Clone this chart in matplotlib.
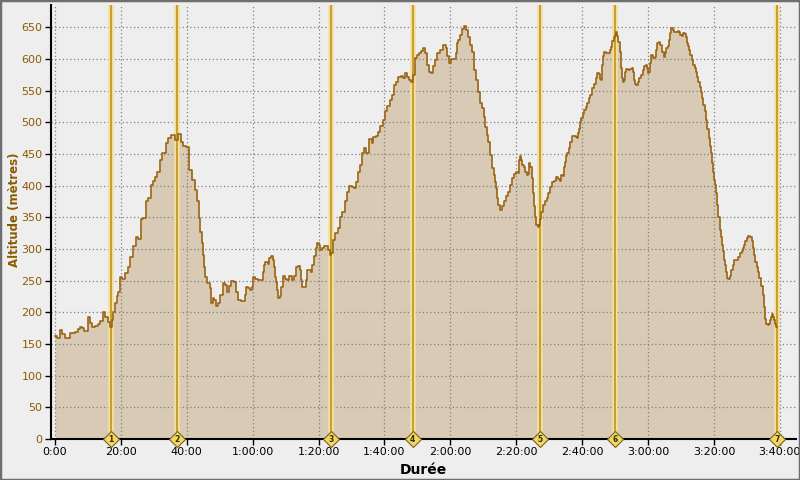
import matplotlib
matplotlib.use("Agg")
import matplotlib.pyplot as plt
from matplotlib.patches import Rectangle

# Elevation profile: time (minutes) and altitude (metres)
time_min = [0.0, 0.6, 1.5, 2.1, 3.0, 3.6, 4.6, 6.1, 7.0, 7.6, 8.2, 8.8, 10.0, 10.6, 11.2, 12.1, 13.1, 13.7,
            14.6, 15.2, 16.1, 16.7, 17.3, 17.6, 18.2, 18.8, 19.1, 19.7, 20.3, 21.2, 22.2, 22.8, 23.7, 24.6,
            25.2, 26.1, 26.7, 27.6, 28.2, 29.1, 29.7, 30.3, 31.0, 31.9, 32.5, 33.1, 33.7, 34.3, 35.2, 35.8,
            36.4, 37.3, 38.2, 38.8, 39.8, 40.7, 41.6, 42.5, 43.1, 43.7, 44.0, 44.6, 44.9, 45.2, 45.5, 46.1,
            47.0, 47.3, 48.0, 48.3, 48.9, 49.5, 50.1, 51.0, 51.6, 52.2, 52.8, 53.4, 54.3, 54.9, 55.5, 56.5,
            57.1, 57.7, 58.0, 58.6, 59.2, 59.8, 60.1, 60.7, 61.6, 62.5, 63.1, 63.4, 63.7, 64.6, 64.9, 65.6,
            66.2, 66.5, 66.8, 67.1, 67.4, 67.7, 68.3, 68.6, 69.2, 69.8, 70.4, 71.0, 71.3, 71.9, 72.5, 73.1,
            73.8, 74.4, 74.7, 75.0, 75.6, 76.2, 76.5, 77.1, 77.7, 78.0, 78.6, 79.2, 79.5, 80.1, 80.4, 81.0,
            81.6, 82.6, 82.9, 83.5, 83.8, 84.4, 85.0, 85.9, 86.5, 87.1, 88.0, 88.6, 89.2, 90.1, 90.7, 91.4,
            92.0, 92.6, 93.2, 93.8, 94.4, 95.3, 96.2, 96.5, 97.4, 98.0, 98.6, 99.5, 100.2, 100.8, 101.7,
            102.3, 102.9, 103.5, 104.1, 105.0, 105.6, 106.2, 106.8, 107.4, 108.0, 108.7, 109.3, 109.9,
            110.5, 111.1, 111.7, 112.3, 112.9, 113.5, 114.1, 114.7, 115.3, 115.9, 116.8, 117.8, 118.7,
            119.0, 119.6, 120.2, 121.4, 121.7, 122.0, 122.3, 122.9, 123.5, 124.1, 124.7, 125.3, 126.0,
            126.6, 127.2, 127.8, 128.4, 129.0, 129.6, 130.2, 130.5, 131.1, 131.4, 132.0, 132.6, 133.2,
            133.5, 133.8, 134.1, 134.4, 135.1, 135.7, 136.3, 136.9, 137.5, 138.1, 138.7, 139.3, 139.9,
            140.5, 140.8, 141.1, 141.4, 141.7, 142.3, 142.6, 143.3, 143.6, 143.9, 144.2, 144.8, 145.1,
            145.4, 145.7, 146.0, 146.6, 146.9, 147.2, 147.5, 148.1, 148.7, 149.3, 149.6, 150.2, 150.8,
            151.4, 152.1, 152.7, 153.3, 153.6, 154.2, 154.5, 154.8, 155.1, 155.4, 156.0, 156.3, 156.9,
            157.5, 158.1, 158.4, 158.7, 159.0, 159.3, 159.6, 160.2, 160.6, 161.2, 161.5, 162.1, 162.4,
            163.0, 163.6, 164.2, 164.5, 165.1, 165.4, 165.7, 166.0, 166.3, 166.6, 167.2, 168.1, 168.4,
            168.7, 169.0, 169.7, 170.0, 170.3, 170.6, 170.9, 171.5, 171.8, 172.1, 172.4, 172.7, 173.0,
            173.3, 173.9, 174.5, 175.1, 175.4, 175.7, 176.0, 176.3, 176.9, 177.2, 177.9, 178.5, 178.8,
            179.4, 179.7, 180.0, 180.3, 180.6, 180.9, 181.5, 182.1, 182.4, 182.7, 183.3, 183.6, 184.2,
            184.8, 185.1, 185.4, 186.0, 186.3, 186.7, 187.0, 187.6, 187.9, 188.5, 189.1, 189.4, 189.7,
            190.3, 190.6, 191.2, 191.5, 191.8, 192.1, 192.4, 192.7, 193.3, 193.6, 194.2, 194.5, 194.8,
            195.1, 195.7, 196.1, 196.4, 196.7, 197.3, 197.6, 197.9, 198.5, 198.8, 199.1, 199.4, 199.7,
            200.0, 200.3, 200.6, 200.9, 201.2, 201.8, 202.1, 202.4, 202.7, 203.0, 203.3, 203.6, 203.9,
            204.3, 204.9, 205.2, 205.8, 206.1, 206.7, 207.3, 207.9, 208.5, 208.8, 209.1, 209.4, 210.0,
            210.3, 210.9, 211.5, 211.8, 212.2, 212.5, 213.1, 213.4, 213.7, 214.3, 214.9, 215.2, 215.5,
            215.8, 216.4, 216.7, 217.0, 217.3, 217.6, 217.9, 218.2, 218.5, 218.8, 219.1]
altitude_m = [163, 160, 172, 166, 160, 160, 168, 169, 173, 177, 175, 170, 193, 183, 177, 178, 181, 187,
              200, 193, 185, 177, 188, 201, 214, 225, 232, 256, 252, 262, 272, 288, 304, 319,
              316, 347, 349, 375, 381, 401, 408, 414, 422, 440, 451, 452, 467, 475, 480, 480,
              472, 481, 469, 463, 461, 425, 409, 393, 375, 349, 327, 309, 290, 272, 256, 246,
              238, 214, 222, 219, 210, 214, 227, 246, 243, 232, 241, 250, 248, 232, 220, 218,
              218, 227, 240, 238, 235, 240, 255, 252, 251, 251, 263, 275, 279, 276, 285, 289,
              283, 272, 255, 248, 235, 222, 225, 240, 257, 252, 251, 257, 257, 251, 257, 272,
              273, 266, 251, 240, 240, 251, 267, 266, 264, 274, 289, 301, 310, 306, 298, 302,
              305, 305, 298, 290, 293, 314, 325, 333, 351, 359, 375, 390, 399, 398, 396, 406,
              422, 433, 451, 459, 452, 473, 467, 477, 478, 485, 494, 504, 517, 525, 535,
              543, 559, 564, 572, 573, 570, 577, 572, 567, 564, 575, 601, 606,
              609, 613, 617, 609, 590, 580, 577, 588, 598, 610, 614, 622, 617,
              604, 594, 600, 600, 609, 625, 630, 638, 647, 652, 646, 635, 622,
              611, 583, 567, 548, 530, 522, 509, 493, 480, 469, 448, 427, 417,
              406, 396, 380, 369, 362, 367, 375, 383, 390, 401, 412, 418, 422,
              420, 440, 447, 440, 432, 430, 422, 417, 418, 435, 430, 412, 388,
              367, 351, 338, 335, 338, 348, 359, 369, 375, 380, 388, 398, 405,
              407, 413, 410, 407, 417, 415, 430, 437, 446, 451, 459, 469, 478,
              479, 476, 475, 483, 490, 501, 506, 513, 519, 524, 530, 538, 543,
              554, 561, 569, 577, 576, 568, 567, 590, 604, 611, 610, 610, 614,
              619, 628, 635, 638, 642, 636, 627, 611, 585, 569, 563, 567, 580,
              584, 582, 584, 585, 580, 567, 561, 559, 564, 569, 574, 582, 588,
              590, 585, 578, 580, 593, 606, 602, 603, 614, 625, 626, 622, 611,
              603, 609, 617, 621, 630, 641, 648, 646, 642, 643, 644, 642, 638,
              636, 641, 640, 634, 625, 620, 614, 606, 598, 590, 585, 580, 572,
              564, 556, 548, 538, 527, 517, 504, 490, 475, 462, 451, 435, 422,
              409, 401, 388, 369, 350, 330, 319, 306, 296, 283, 275, 264, 254,
              252, 257, 267, 275, 282, 283, 287, 294, 297, 301, 306, 312, 317,
              321, 319, 312, 301, 290, 279, 272, 264, 254, 242, 227, 208, 190,
              181, 180, 182, 188, 193, 197, 193, 188, 181, 176, 176]

# Lap markers (minutes) and their labels
marker_times = [17.0, 37.0, 83.8, 108.6, 147.2, 170.0, 219.1]
marker_labels = ["1", "2", "3", "4", "5", "6", "7"]

x_ticks = [0, 20, 40, 60, 80, 100, 120, 140, 160, 180, 200, 220]
x_tick_labels = ["0:00", "20:00", "40:00", "1:00:00", "1:20:00", "1:40:00", "2:00:00",
                 "2:20:00", "2:40:00", "3:00:00", "3:20:00", "3:40:00"]
y_ticks = [0, 50, 100, 150, 200, 250, 300, 350, 400, 450, 500, 550, 600, 650]

BG = "#eeeeee"
FILL = "#d8cab5"
LINE = "#9a6412"
BROWN = "#8b5a00"

fig = plt.figure(figsize=(8, 4.8), dpi=100, facecolor=BG)
ax = fig.add_axes([51 / 800, 1 - 439 / 480, (796 - 51) / 800, (439 - 5) / 480])
ax.set_facecolor(BG)

ax.set_xlim(-1.21, 224.9)
ax.set_ylim(0, 685)

ax.fill_between(time_min, altitude_m, 0, step="post", color=FILL, zorder=2, linewidth=0)

for t in marker_times:
    ax.axvline(t, color="#f4df9c", linewidth=4.0, zorder=3)
    ax.axvline(t, color="#c39a28", linewidth=1.3, zorder=3.5)

ax.plot(time_min, altitude_m, drawstyle="steps-post", color=LINE, linewidth=1.2, zorder=4)

for t, lab in zip(marker_times, marker_labels):
    ax.plot([t], [0], marker="D", markersize=8.5, markerfacecolor="#f2d666",
            markeredgecolor="#7a6020", markeredgewidth=0.8, clip_on=False, zorder=6)
    ax.text(t, 0, lab, fontsize=5.5, ha="center", va="center", color="#303000",
            fontweight="bold", zorder=7, clip_on=False)

ax.set_xticks(x_ticks)
ax.set_xticklabels(x_tick_labels)
ax.set_yticks(y_ticks)
ax.grid(True, color="#808080", linestyle=(0, (1, 2)), linewidth=0.9, zorder=1)
ax.set_axisbelow(False)
for gl in ax.get_xgridlines() + ax.get_ygridlines():
    gl.set_zorder(2.5)

ax.tick_params(axis="x", colors="black", labelsize=8, length=4, width=1, pad=2, labelcolor="black")
ax.tick_params(axis="y", colors="black", labelsize=8, length=4, width=1, pad=2, labelcolor=BROWN)

for s in ["top", "right"]:
    ax.spines[s].set_visible(False)
for s in ["left", "bottom"]:
    ax.spines[s].set_linewidth(1.5)
    ax.spines[s].set_color("black")
    ax.spines[s].set_zorder(5)

ax.set_xlabel("Durée", fontsize=10, fontweight="bold", color="black", labelpad=4)
fig.text(15 / 800, 1 - 210 / 480, "Altitude (mètres)", rotation=90, fontsize=8.5,
         fontweight="bold", color=BROWN, ha="center", va="center")

fig.patches.append(Rectangle((0, 0), 1, 1, transform=fig.transFigure, fill=False,
                             edgecolor="#6e6e6e", linewidth=2.5, zorder=10))

fig.savefig("out.png", dpi=100, facecolor=BG)
